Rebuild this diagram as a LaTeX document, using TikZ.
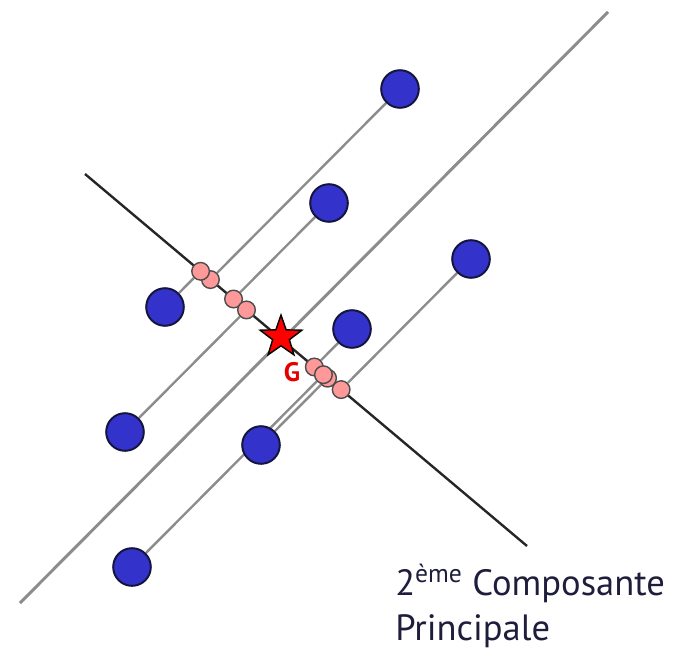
\documentclass[tikz,border=0pt]{standalone}
\usepackage{fontspec}
\newfontfamily\labelfont{PT Sans}
\usetikzlibrary{positioning,calc,shapes.geometric,backgrounds}

\definecolor{dotblue}{RGB}{51,51,204}
\definecolor{dotedge}{RGB}{20,20,60}
\definecolor{projpink}{RGB}{255,153,153}
\definecolor{axisgray}{RGB}{140,140,140}
\definecolor{textnavy}{RGB}{30,30,60}

\tikzset{
  obs/.style={circle, draw=dotedge, fill=dotblue, line width=1.4pt, minimum size=0.94cm, inner sep=0pt},
  proj/.style={circle, draw=black!70, fill=projpink, line width=1pt, minimum size=0.44cm, inner sep=0pt},
  axisone/.style={draw=axisgray, line width=2.1pt},
  projline/.style={draw=axisgray, line width=1.7pt},
  axistwo/.style={draw=black!85, line width=1.7pt},
  labeltext/.style={anchor=base west, inner sep=0pt, text=textnavy, font=\labelfont\fontsize{26}{32}\selectfont}
}

\begin{document}
\begin{tikzpicture}[x=0.025cm, y=-0.025cm]
\useasboundingbox (0,0) rectangle (674,649);

% les deux axes
\coordinate (a1) at (20,603);
\coordinate (a2) at (608,12);
\coordinate (s1) at (85,174);
\coordinate (s2) at (527,546);

% individus et leurs projections sur le 2e axe
\foreach \n/\x/\y in {1/400/89, 2/329/203, 3/471/259, 4/165/307,
  5/352/329, 6/125/432, 7/261/445, 8/132/567} {
  \coordinate (c\n) at (\x,\y);
  \coordinate (e\n) at ($(c\n)+(a2)-(a1)$);
  \node[proj] (q\n) at (intersection cs: first line={(c\n)--(e\n)}, second line={(s1)--(s2)}) {};
  \node[obs] (d\n) at (c\n) {};
}

% centre de gravite
\node[star, star points=5, star point ratio=2.5, draw=black, fill=red,
  line width=1pt, minimum size=1.1cm, inner sep=0pt] (g) at (281,337) {};
\node[text=red!90!black, font=\labelfont\bfseries\fontsize{19}{19}\selectfont,
  inner sep=0pt] (glabel) at (292,372) {G};

\begin{pgfonlayer}{background}
  \draw[axisone] (a1) -- (a2);
  \foreach \n in {1,...,8} {
    \draw[projline] (d\n) -- (q\n);
  }
  \draw[axistwo] (s1) -- (s2);
\end{pgfonlayer}

\node[labeltext] (pcl1) at (395,595) {2\textsuperscript{ème} Composante};
\node[labeltext] (pcl2) at (395,640) {Principale};
\end{tikzpicture}
\end{document}
